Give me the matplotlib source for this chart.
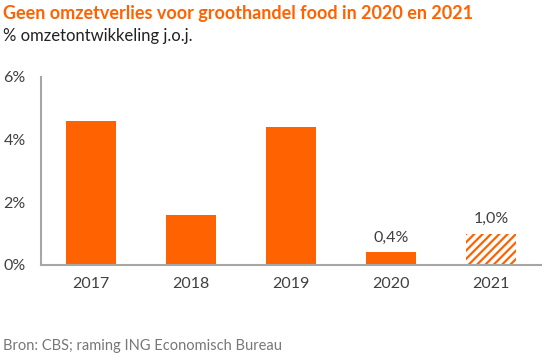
import matplotlib
matplotlib.use("Agg")
import matplotlib.pyplot as plt
from matplotlib.ticker import FuncFormatter

years = ["2017", "2018", "2019", "2020", "2021"]
values = [4.6, 1.6, 4.4, 0.4, 1.0]
forecast = [False, False, False, False, True]
labels = {"2020": "0,4%", "2021": "1,0%"}
yticks = [0, 2, 4, 6]

orange = "#FF6200"
grey = "#A6A6A6"
text = "#404040"

plt.rcParams['font.family'] = ['Lato', 'DejaVu Sans']
plt.rcParams['hatch.color'] = orange
plt.rcParams['hatch.linewidth'] = 1.6

fig = plt.figure(figsize=(5.49, 3.62), dpi=100)
ax = fig.add_axes([41/549, 1 - 265/362, 500/549, (265 - 77)/362])

x = range(len(years))
for i, (yv, f) in enumerate(zip(values, forecast)):
    if f:
        ax.bar(i, yv, width=0.5, facecolor="white", edgecolor=orange,
               hatch="////", linewidth=0)
    else:
        ax.bar(i, yv, width=0.5, color=orange, linewidth=0)
    if years[i] in labels:
        ax.text(i, yv + 0.25, labels[years[i]], ha="center", va="bottom",
                fontsize=11.5, color=text)

ax.set_xlim(-0.5, len(years) - 0.5)
ax.set_ylim(0, 6)
ax.set_yticks(yticks)
ax.yaxis.set_major_formatter(FuncFormatter(lambda v, p: f"{int(v)}%"))
ax.set_xticks(list(x))
ax.set_xticklabels(years)
ax.tick_params(axis="both", length=0, labelsize=11.5, labelcolor=text)
ax.tick_params(axis="x", pad=9)
for lab in ax.get_yticklabels():
    lab.set_horizontalalignment("left")
ax.tick_params(axis="y", pad=27)
for s in ["top", "right"]:
    ax.spines[s].set_visible(False)
for s in ["left", "bottom"]:
    ax.spines[s].set_color(grey)
    ax.spines[s].set_linewidth(1.5)

fig.text(3/549, 1 - 13/362, "Geen omzetverlies voor groothandel food in 2020 en 2021",
         fontsize=13, fontweight="bold", color=orange, va="center", ha="left")
fig.text(3/549, 1 - 36/362, "% omzetontwikkeling j.o.j.", fontsize=12,
         color="#222222", va="center", ha="left")
fig.text(3/549, 1 - 346/362, "Bron: CBS; raming ING Economisch Bureau", fontsize=10.5,
         color="#777777", va="center", ha="left")

fig.savefig("out.png", dpi=100)
